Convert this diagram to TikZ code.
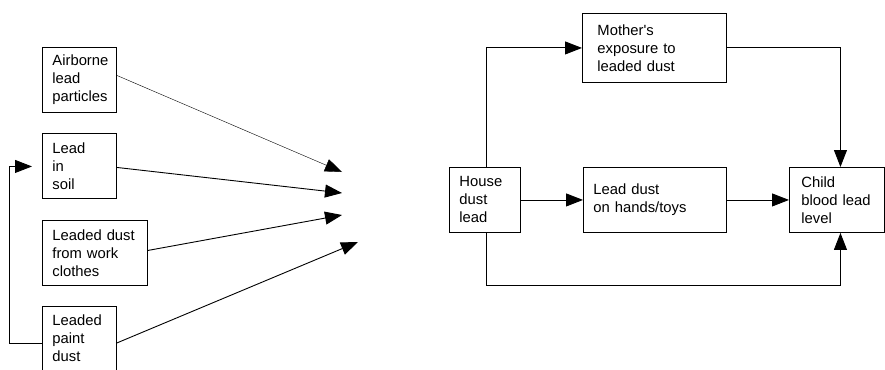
\documentclass[tikz,border=0pt]{standalone}
\usepackage{fontspec}
\setmainfont{Liberation Sans}
\usetikzlibrary{arrows.meta,calc}
\begin{document}
\begin{tikzpicture}[x=1pt,y=-1pt,
  box/.style={draw, line width=0.9pt, anchor=north west, align=left, inner xsep=10pt, inner ysep=0pt,
    font=\fontsize{14.8}{18}\selectfont},
  arr/.style={line width=0.9pt, -{Triangle[length=17pt,width=13pt]}},
  thinarr/.style={line width=0.4pt, -{Triangle[length=17pt,width=13pt]}}]
\useasboundingbox (0,0) rectangle (885,369);
% left column
\node[box, text width=54pt, minimum height=65pt] (b1) at (42,47) {Airborne\\lead\\particles};
\node[box, text width=54pt, minimum height=65pt] (b2) at (42,133) {Lead\\in\\soil};
\node[box, text width=85pt, minimum height=65pt] (b3) at (42,220) {Leaded dust\\from work\\clothes};
\node[box, text width=54pt, minimum height=66pt] (b4) at (42,306) {Leaded\\paint\\dust\vphantom{g}};
\coordinate (t1) at (342,172);
\coordinate (t2) at (342,193);
\coordinate (t3) at (342,215);
\coordinate (t4) at (358,242);
\draw[thinarr] ([yshift=4.5pt]b1.east) -- (t1);
\draw[arr] ([yshift=-1.5pt]b2.east) -- (t2);
\draw[arr] ([yshift=2.5pt]b3.east) -- (t3);
\draw[arr] ([yshift=-3.5pt]b4.east) -- (t4);
\draw[arr] ([yshift=-3.5pt]b4.west) -- ++(-33,0) |- ([xshift=-10pt,yshift=-0.5pt]b2.west);
% right part
\node[box, text width=51pt, minimum height=65pt] (house) at (449,167) {House\\dust\\lead};
\node[box, inner xsep=15pt, text width=114pt, minimum height=69pt] (mother) at (582,13) {Mother\textquotesingle s\\exposure to\\leaded dust};
\node[box, text width=123pt, minimum height=65pt] (lead) at (583,167) {Lead dust\\on hands/toys};
\node[box, inner xsep=12pt, text width=71pt, minimum height=65pt] (child) at (789,167) {Child\\blood lead\\level};
\draw[arr] ([xshift=1.5pt]house.north) |- (mother.west);
\draw[arr] (mother.east) -| ([xshift=3.5pt]child.north);
\draw[arr] (house.east) -- (lead.west);
\draw[arr] (lead.east) -- (child.west);
\draw[arr] ([xshift=1.5pt]house.south) -- ++(0,53) -| ([xshift=3.5pt]child.south);
\end{tikzpicture}
\end{document}
